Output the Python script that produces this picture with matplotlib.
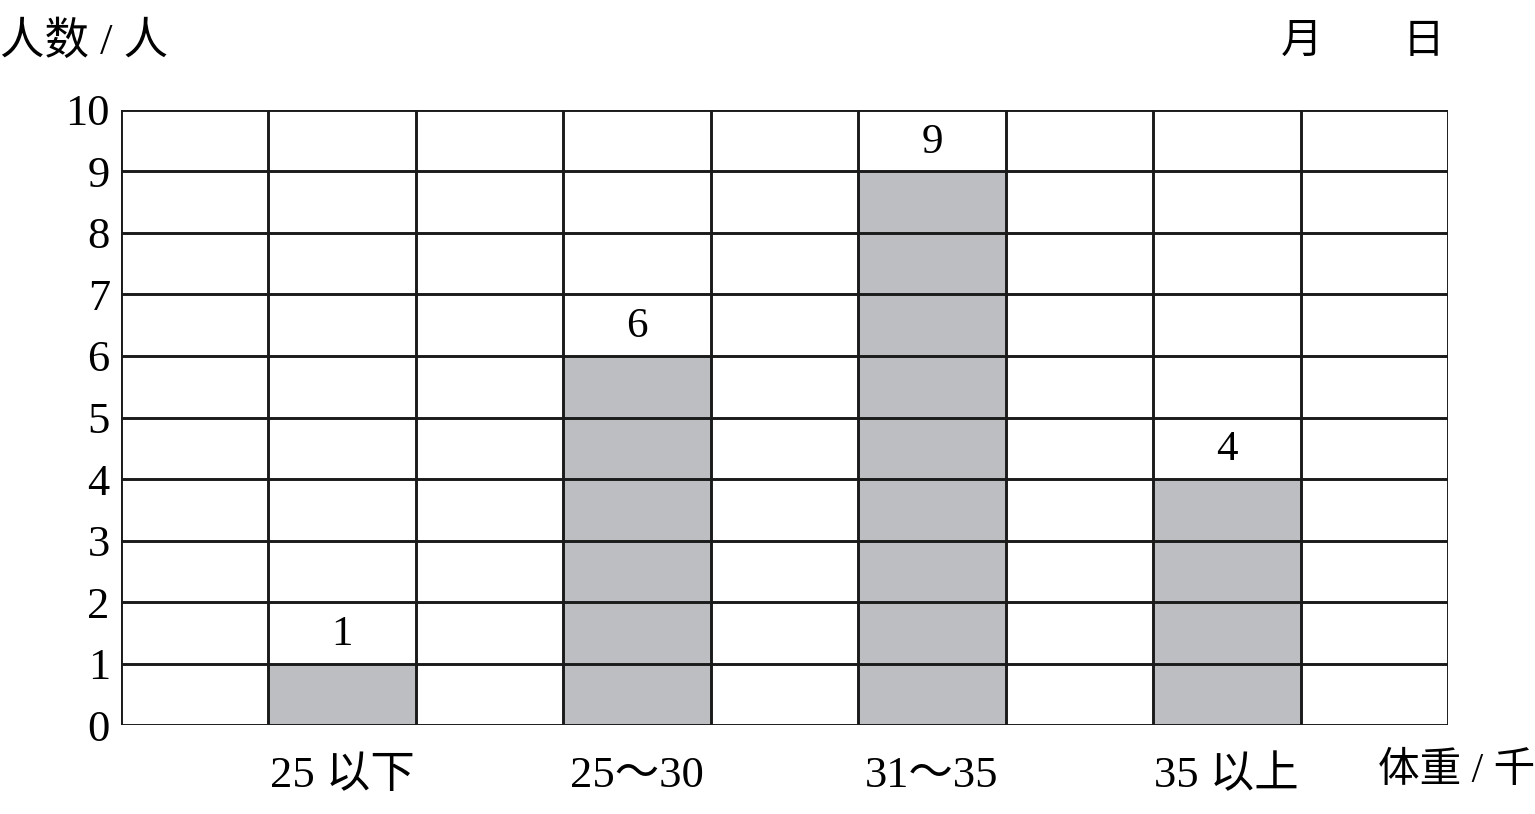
import matplotlib.pyplot as plt
import numpy as np

# font: serif digits, CJK fallback
plt.rcParams['font.family'] = ['Liberation Serif', 'Noto Sans CJK SC']

categories = ['25 以下', '25～30', '31～35', '35 以上']
counts = [1, 6, 9, 4]
bar_cols = [1, 3, 5, 7]  # grid column of each bar
n_cols = 9
y_ticks = list(range(0, 11))

fig = plt.figure(figsize=(15.35, 8.14), dpi=100)
ax = fig.add_axes([0.0788, 0.1093, 0.8645, 0.7556])

ax.bar([c + 0.5 for c in bar_cols], counts, width=1.0, color='#bdbec2',
       edgecolor='none', zorder=1)

# grid lines
for x in range(n_cols + 1):
    ax.axvline(x, color='#1a1a1a', lw=2.1, zorder=2)
for y in y_ticks:
    ax.axhline(y, color='#1a1a1a', lw=2.1, zorder=2)

for c, v in zip(bar_cols, counts):
    ax.text(c + 0.5, v + 0.47, str(v), ha='center', va='center', fontsize=31)

ax.set_xlim(0, n_cols)
ax.set_ylim(0, 10)
ax.set_xticks([c + 0.5 for c in bar_cols])
ax.set_xticklabels(categories, fontsize=32)
ax.set_yticks(y_ticks)
ax.set_yticklabels([str(y) for y in y_ticks], fontsize=32)
ax.tick_params(length=0, pad=8)
ax.tick_params(axis='x', pad=22)
for s in ax.spines.values():
    s.set_visible(False)

fig.text(0.0, 0.948, '人数 / 人', fontsize=32, ha='left', va='center')
fig.text(0.848, 0.948, '月', fontsize=30, ha='center', va='center')
fig.text(0.927, 0.948, '日', fontsize=30, ha='center', va='center')
fig.text(0.898, 0.052, '体重 / 千克', fontsize=30, ha='left', va='center')

fig.savefig('out.png', dpi=100)
